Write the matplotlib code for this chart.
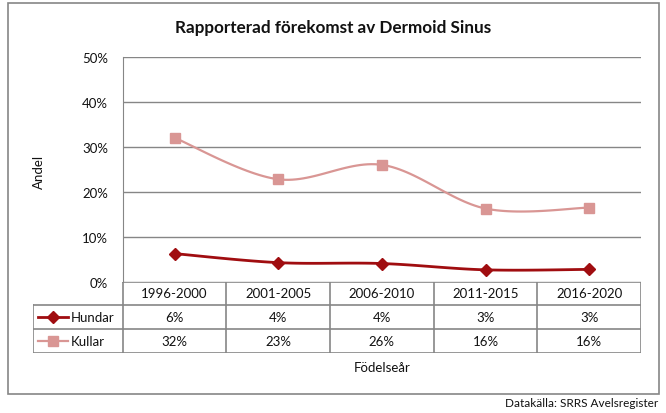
import numpy as np
import matplotlib
matplotlib.use("Agg")
import matplotlib.pyplot as plt
from matplotlib.patches import Rectangle
from matplotlib.lines import Line2D

plt.rcParams['font.family'] = ['Lato', 'DejaVu Sans']

periods = ["1996-2000", "2001-2005", "2006-2010", "2011-2015", "2016-2020"]
hundar = [6.3, 4.3, 4.1, 2.7, 2.8]
kullar = [32.0, 22.8, 26.0, 16.3, 16.5]
hundar_txt = ["6%", "4%", "4%", "3%", "3%"]
kullar_txt = ["32%", "23%", "26%", "16%", "16%"]

C_HUND = "#a00d10"
C_KULL = "#d99694"
C_GRID = "#868686"
C_TEXT = "#111111"


def smooth(xs, ys, n=30):
    # bezier smoothing the way excel does it (catmull-rom style)
    P = np.column_stack([xs, ys]).astype(float)
    out = []
    for i in range(len(P) - 1):
        p0 = P[max(i - 1, 0)]
        p1, p2 = P[i], P[i + 1]
        p3 = P[min(i + 2, len(P) - 1)]
        c1 = p1 + (p2 - p0) / 6
        c2 = p2 - (p3 - p1) / 6
        t = np.linspace(0, 1, n)[:, None]
        seg = ((1 - t) ** 3 * p1 + 3 * (1 - t) ** 2 * t * c1
               + 3 * (1 - t) * t ** 2 * c2 + t ** 3 * p2)
        out.append(seg if i == 0 else seg[1:])
    out = np.vstack(out)
    return out[:, 0], out[:, 1]


W, H = 666, 414
fig = plt.figure(figsize=(W / 100, H / 100), dpi=100)

# outer frame
fig.add_artist(Rectangle((8 / W, 1 - 395 / H), (659 - 8) / W, (395 - 4) / H,
                         transform=fig.transFigure, fill=False,
                         edgecolor=C_GRID, linewidth=1.2))

L, R, T, B = 122.7, 641, 57.7, 283
ax = fig.add_axes([L / W, 1 - B / H, (R - L) / W, (B - T) / H])
x = np.arange(len(periods))
ax.set_xlim(-0.5, len(periods) - 0.5)
ax.set_ylim(0, 50)
ax.set_yticks(range(0, 51, 10))
ax.set_yticklabels(["%d%%" % v for v in range(0, 51, 10)])
ax.set_xticks([])
ax.tick_params(axis='y', length=0, pad=10.5, labelsize=9.5, labelcolor=C_TEXT)
ax.grid(axis='y', color=C_GRID, linewidth=1)
ax.set_axisbelow(True)
for s in ["top", "right", "bottom"]:
    ax.spines[s].set_visible(False)
ax.spines["left"].set_color(C_GRID)

sx, sy = smooth(x, kullar)
ax.plot(sx, sy, color=C_KULL, linewidth=1.6)
ax.plot(x, kullar, linestyle="none", marker="s", markersize=6.5, color=C_KULL)
sx, sy = smooth(x, hundar)
ax.plot(sx, sy, color=C_HUND, linewidth=2)
ax.plot(x, hundar, linestyle="none", marker="D", markersize=6.5, color=C_HUND)

# data table underneath
TL, TB = 33, 354
legw = (L - TL) / ((R - L) / len(periods))
tab = fig.add_axes([TL / W, 1 - TB / H, (R - TL) / W, (TB - B) / H])
tab.set_xlim(-0.5 - legw, len(periods) - 0.5)
tab.set_ylim(TB - B, 0)
tab.axis("off")
x0 = -0.5 - legw
xe = len(periods) - 0.5
lk = dict(color=C_GRID, linewidth=1.2)
tab.plot([-0.5, xe], [0, 0], **lk)
for yy in (23, 47, 71):
    tab.plot([x0, xe], [yy, yy], **lk)
tab.plot([x0, x0], [23, 71], **lk)
for i in range(len(periods) + 1):
    tab.plot([i - 0.5, i - 0.5], [0, 71], **lk)
for i, p in enumerate(periods):
    tab.text(i, 11.5, p, ha="center", va="center", fontsize=9.5, color=C_TEXT)
    tab.text(i, 35, hundar_txt[i], ha="center", va="center", fontsize=9.5, color=C_TEXT)
    tab.text(i, 59, kullar_txt[i], ha="center", va="center", fontsize=9.5, color=C_TEXT)

cw = (R - L) / len(periods)
for yy, name, col, mk, lw in ((35, "Hundar", C_HUND, "D", 2), (59, "Kullar", C_KULL, "s", 1.6)):
    xa = x0 + (38 - TL) / cw
    xb = x0 + (68 - TL) / cw
    tab.add_line(Line2D([xa, xb], [yy, yy], color=col, linewidth=lw))
    tab.plot([(xa + xb) / 2], [yy], marker=mk, markersize=6.5, color=col)
    tab.text(x0 + (71 - TL) / cw, yy, name, ha="left", va="center",
             fontsize=9.5, color=C_TEXT)

fig.text(333 / W, 1 - 28 / H, "Rapporterad förekomst av Dermoid Sinus",
         ha="center", va="center", fontsize=12.3, fontweight="bold", color=C_TEXT)
fig.text(39 / W, 1 - 172 / H, "Andel", rotation=90, ha="center", va="center",
         fontsize=9.5, color=C_TEXT)
fig.text(382 / W, 1 - 368 / H, "Födelseår", ha="center", va="center",
         fontsize=9.5, color=C_TEXT)
fig.text(658 / W, 1 - 404 / H, "Datakälla: SRRS Avelsregister", ha="right",
         va="center", fontsize=8.5, color=C_TEXT)

fig.savefig("out.png", dpi=100)
